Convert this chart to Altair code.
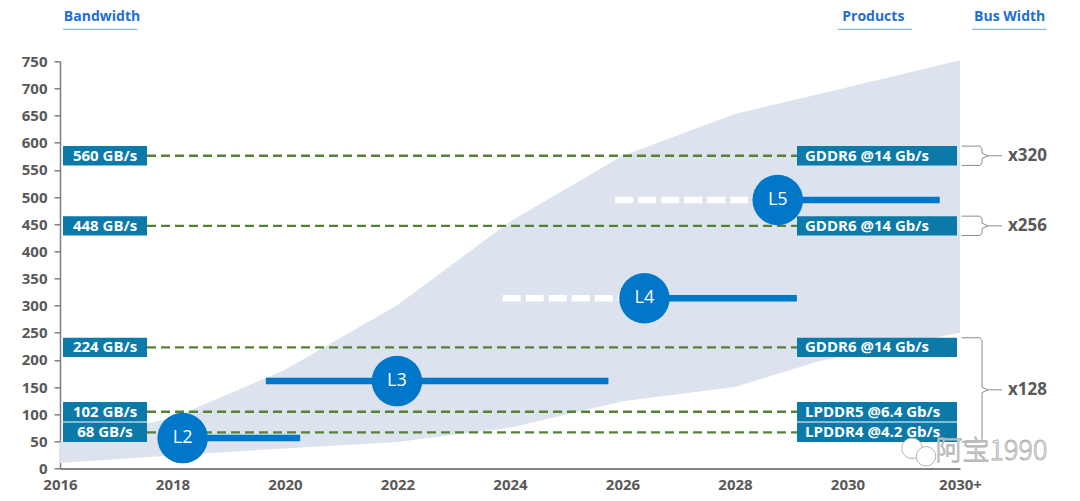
import altair as alt
import pandas as pd

# ---------------- data ----------------
area_years = [2016, 2018, 2020, 2022, 2024, 2026, 2028, 2029.5, 2032]
area_upper = [49, 93, 182, 301, 455, 576, 653, 690, 752]
area_lower = [10, 24, 37, 49, 75, 124, 150, 198, 250]

bw_labels = ["560 GB/s", "448 GB/s", "224 GB/s", "102 GB/s", "68 GB/s"]
bw_values = [576, 447, 223, 104.5, 66.7]
products = ["GDDR6 @14 Gb/s", "GDDR6 @14 Gb/s", "GDDR6 @14 Gb/s",
            "LPDDR5 @6.4 Gb/s", "LPDDR4 @4.2 Gb/s"]
bus_widths = ["x320", "x256", "x128", "x128", "x128"]

levels = ["L2", "L3", "L4", "L5"]
level_values = [56, 161, 313.5, 494.5]
level_center = [2018.18, 2021.99, 2026.39, 2028.76]
level_start = [2018.18, 2019.66, 2026.39, 2028.76]
level_end = [2020.27, 2025.75, 2029.1, 2031.64]
plan_levels = ["L4", "L5"]
plan_start = [2023.87, 2025.87]

x_ticks = [2016, 2018, 2020, 2022, 2024, 2026, 2028, 2030, 2032]
y_ticks = list(range(0, 800, 50))

# ---------------- styles ----------------
AREA = "#dde3ee"
GREEN = "#548235"
BOX = "#0b7aa9"
BLUE = "#0077c8"
GRAY = "#595959"
HEAD = "#1f6fd1"
FONT = "Open Sans"
PX_PER_YEAR = 900 / 16
HALF = 17.8  # half box height in value units

area_df = pd.DataFrame({"year": area_years, "upper": area_upper, "lower": area_lower})
bw_df = pd.DataFrame({"label": bw_labels, "v": bw_values, "product": products, "bus": bus_widths})
bw_df["top"] = bw_df["v"] + HALF
bw_df["bot"] = bw_df["v"] - HALF
lv_df = pd.DataFrame({"lvl": levels, "v": level_values, "c": level_center,
                      "s": level_start, "e": level_end})
plan_df = lv_df[lv_df["lvl"].isin(plan_levels)].copy()
plan_df["ps"] = plan_start


def px2yr(px):
    return 2016 + px / PX_PER_YEAR


rows = []
seg = 0
for bus in ["x320", "x256", "x128"]:
    g = bw_df[bw_df["bus"] == bus]
    top = g["top"].max()
    bot = g["bot"].min()
    mid = (top + bot) / 2
    c = 5
    pts = [(901.7, top), (920, top), (922, top - c), (922, mid + c), (928, mid),
           (922, mid - c), (922, bot + c), (920, bot), (901.7, bot)]
    for i, (px, v) in enumerate(pts):
        rows.append({"seg": seg, "o": i, "x": px2yr(px), "y": v})
    seg += 1
    rows.append({"seg": seg, "o": 0, "x": px2yr(928), "y": mid})
    rows.append({"seg": seg, "o": 1, "x": px2yr(942), "y": mid})
    seg += 1
br_df = pd.DataFrame(rows)
brt_df = pd.DataFrame([
    {"bus": b, "mid": (bw_df[bw_df["bus"] == b]["top"].max() + bw_df[bw_df["bus"] == b]["bot"].min()) / 2,
     "x": px2yr(948)} for b in ["x320", "x256", "x128"]])

xscale = alt.Scale(domain=[2016, 2032], nice=False, zero=False)
yscale = alt.Scale(domain=[0, 750], nice=False, zero=True)
xaxis = alt.Axis(values=x_ticks, format="d",
                 labelExpr="datum.value == 2032 ? '2030+' : datum.label")
yaxis = alt.Axis(values=y_ticks, format="d")


def nx(f):
    return alt.X(f, title=None, scale=xscale, axis=xaxis)


def ny(f):
    return alt.Y(f, title=None, scale=yscale, axis=yaxis)


area = alt.Chart(area_df).mark_area(color=AREA, opacity=1).encode(
    x=nx("year:Q"), y=ny("upper:Q"), y2="lower:Q")

green = alt.Chart(bw_df).mark_rule(color=GREEN, strokeWidth=2.3, strokeDash=[9, 5]).encode(
    y=ny("v:Q"), x=alt.value(87), x2=alt.value(737))

lbox = alt.Chart(bw_df).mark_rect(color=BOX).encode(
    y=ny("top:Q"), y2="bot:Q", x=alt.value(3), x2=alt.value(87))
ltext = alt.Chart(bw_df).mark_text(color="white", font=FONT, fontWeight="bold",
                                   fontSize=15, align="center", baseline="middle").encode(
    y=ny("v:Q"), x=alt.value(45), text="label:N")

rbox = alt.Chart(bw_df).mark_rect(color=BOX).encode(
    y=ny("top:Q"), y2="bot:Q", x=alt.value(737), x2=alt.value(897))
rtext = alt.Chart(bw_df).mark_text(color="white", font=FONT, fontWeight="bold",
                                   fontSize=15, align="left", baseline="middle").encode(
    y=ny("v:Q"), x=alt.value(745), text="product:N")

solid = alt.Chart(lv_df).mark_rule(color=BLUE, strokeWidth=6.5).encode(
    x=nx("s:Q"), x2="e:Q", y=ny("v:Q"))
plan = alt.Chart(plan_df).mark_rule(color="white", strokeWidth=6.5, strokeDash=[18, 5]).encode(
    x=nx("ps:Q"), x2="c:Q", y=ny("v:Q"))
circ = alt.Chart(lv_df).mark_circle(color=BLUE, opacity=1, size=2550).encode(
    x=nx("c:Q"), y=ny("v:Q"))
ctext = alt.Chart(lv_df).mark_text(color="white", font=FONT, fontSize=18,
                                   align="center", baseline="middle").encode(
    x=nx("c:Q"), y=ny("v:Q"), text="lvl:N")

brackets = alt.Chart(br_df).mark_line(color="#8c8c8c", strokeWidth=1).encode(
    x=nx("x:Q"), y=ny("y:Q"), detail="seg:N", order="o:Q")
btext = alt.Chart(brt_df).mark_text(color=GRAY, font=FONT, fontWeight="bold", fontSize=17,
                                    align="left", baseline="middle").encode(
    x=nx("x:Q"), y=ny("mid:Q"), text="bus:N")

one = pd.DataFrame({"a": [0]})
heads = []
for txt, cx, ux1, ux2 in [("Bandwidth", 42, 3, 77.7),
                          ("Products", 813.3, 777.7, 852),
                          ("Bus Width", 949.7, 912, 986.7)]:
    heads.append(alt.Chart(one).mark_text(text=txt, color=HEAD, font=FONT, fontWeight="bold",
                                          fontSize=14, align="center", baseline="middle").encode(
        x=alt.value(cx), y=alt.value(-44.8)))
    heads.append(alt.Chart(one).mark_rule(color="#6fa8dc", strokeWidth=1).encode(
        x=alt.value(ux1), x2=alt.value(ux2), y=alt.value(-32)))

wm_icon1 = alt.Chart(one).mark_point(shape="circle", filled=True, fill="white", stroke="#b5b5b5",
                                     strokeWidth=1, size=420, opacity=1).encode(
    x=alt.value(852), y=alt.value(387))
wm_icon2 = alt.Chart(one).mark_point(shape="circle", filled=True, fill="white", stroke="#b5b5b5",
                                     strokeWidth=1, size=380, opacity=1).encode(
    x=alt.value(866), y=alt.value(395))
wm_text = alt.Chart(one).mark_text(text="阿宝1990", font="Noto Sans CJK SC", fontWeight=300,
                                   fontSize=27, fill="white", stroke="#b0b0b0", strokeWidth=0.9,
                                   align="center", baseline="middle").encode(
    x=alt.value(931.5), y=alt.value(391))

chart = alt.layer(area, green, lbox, ltext, solid, plan, circ, ctext, rbox, rtext,
                  brackets, btext, *heads, wm_icon1, wm_icon2, wm_text).properties(
    width=900, height=407.2,
    autosize=alt.AutoSizeParams(type="none"),
    padding={"left": 52, "top": 53.3, "right": 110, "bottom": 24.5},
).configure_view(stroke=None).configure_axisX(
    domainColor=GRAY, domainWidth=1.5, ticks=False, tickSize=0, grid=False,
    labelFont=FONT, labelFontWeight="bold", labelFontSize=15, labelColor=GRAY,
    labelPadding=9, labelFlush=False, labelOverlap=False,
).configure_axisY(
    domainColor="#7f7f7f", domainWidth=1.5, tickColor="#7f7f7f", tickSize=6, tickWidth=1.5,
    grid=False, labelFont=FONT, labelFontWeight="bold", labelFontSize=15, labelColor=GRAY,
    labelPadding=7, labelOverlap=False,
)

chart.save("out.html", embed_options={"renderer": "svg", "actions": False})
